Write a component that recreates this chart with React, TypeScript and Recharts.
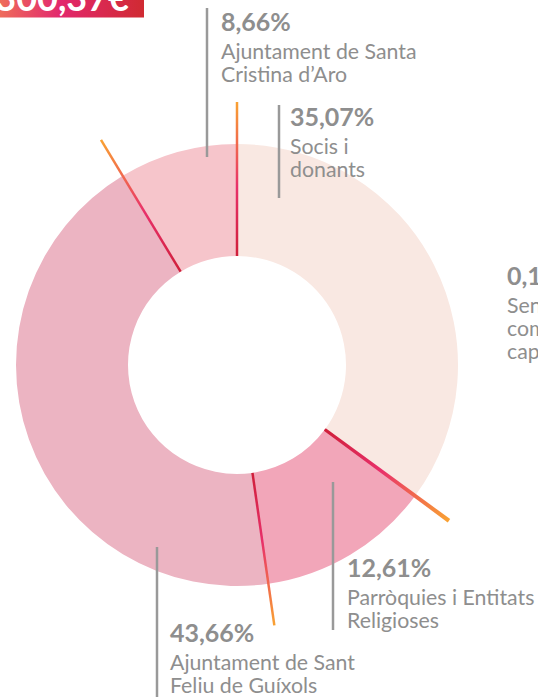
import React from "react";
import { PieChart, Pie, Cell } from "recharts";

const categories = [
  "Socis i donants",
  "Sense compromís capital",
  "Parròquies i Entitats Religioses",
  "Ajuntament de Sant Feliu de Guíxols",
  "Ajuntament de Santa Cristina d'Aro",
];
const values = [35.07, 0.1, 12.61, 43.66, 8.66];
const percentLabels = ["35,07%", "0,1%", "12,61%", "43,66%", "8,66%"];
const descLines = [
  ["Socis i", "donants"],
  ["Sense", "compromís", "capital"],
  ["Parròquies i Entitats", "Religioses"],
  ["Ajuntament de Sant", "Feliu de Guíxols"],
  ["Ajuntament de Santa", "Cristina d’Aro"],
];
const badgeText = "263.300,37€";

const colors = ["#f9e8e2", "#e8325f", "#f2a6b9", "#ecb4c2", "#f6c5cb"];

// label layout (text anchor + gray leader line), separate from data
const layout = [
  { tx: 290, ty: 126, lx: 279, ly1: 105, ly2: 198, line: true },
  { tx: 507, ty: 285, lx: 0, ly1: 0, ly2: 0, line: false },
  { tx: 347, ty: 577, lx: 333, ly1: 482, ly2: 630, line: true },
  { tx: 170, ty: 642, lx: 157, ly1: 547, ly2: 697, line: true },
  { tx: 221, ty: 31, lx: 207, ly1: 8, ly2: 157, line: true },
];

const data = categories.map((name, i) => ({ name, value: values[i] }));

const RAD = Math.PI / 180;
const GRAY = "#8e8e8e";
const FONT = "Lato, 'Open Sans', sans-serif";

const renderLabel = (props: any) => {
  const { cx, cy, startAngle, innerRadius, index } = props;
  const a = startAngle * RAD;
  const r2 = 263;
  const x1 = cx + innerRadius * Math.cos(a);
  const y1 = cy - innerRadius * Math.sin(a);
  const x2 = cx + r2 * Math.cos(a);
  const y2 = cy - r2 * Math.sin(a);
  const L = layout[index];
  const gid = `sep-grad-${index}`;
  return (
    <g key={`lbl-${index}`}>
      <defs>
        <linearGradient id={gid} gradientUnits="userSpaceOnUse" x1={x1} y1={y1} x2={x2} y2={y2}>
          <stop offset="0%" stopColor="#cf1f3a" />
          <stop offset="45%" stopColor="#e8306a" />
          <stop offset="100%" stopColor="#f9a232" />
        </linearGradient>
      </defs>
      <line x1={x1} y1={y1} x2={x2} y2={y2} stroke={`url(#${gid})`} strokeWidth={2.5} />
      {L.line && (
        <line x1={L.lx} y1={L.ly1} x2={L.lx} y2={L.ly2} stroke="#999999" strokeWidth={2.5} />
      )}
      <text x={L.tx} y={L.ty} fill={GRAY} fontFamily={FONT} fontWeight={700} fontSize={25}>
        {percentLabels[index]}
      </text>
      {descLines[index].map((t, j) => (
        <text
          key={j}
          x={L.tx}
          y={L.ty + 28 + j * 23}
          fill={GRAY}
          fontFamily={FONT}
          fontWeight={400}
          fontSize={21.3}
        >
          {t}
        </text>
      ))}
    </g>
  );
};

export default function App() {
  return (
    <div style={{ position: "absolute", left: 0, top: 0, width: 538, height: 697, overflow: "hidden", background: "#fff" }}>
      <PieChart width={538} height={697} margin={{ top: 0, right: 0, bottom: 0, left: 0 }}>
        <Pie
          data={data}
          dataKey="value"
          nameKey="name"
          cx={237}
          cy={365}
          innerRadius={109}
          outerRadius={221}
          startAngle={90}
          endAngle={-270}
          stroke="none"
          isAnimationActive={false}
          label={renderLabel}
          labelLine={false}
        >
          {data.map((d, i) => (
            <Cell key={d.name} fill={colors[i]} />
          ))}
        </Pie>
      </PieChart>
      <svg width={144} height={18} style={{ position: "absolute", left: 0, top: 0 }}>
        <defs>
          <linearGradient id="badge-grad" x1="0" y1="0" x2="1" y2="0">
            <stop offset="0%" stopColor="#ee6c5c" />
            <stop offset="42%" stopColor="#e2286d" />
            <stop offset="100%" stopColor="#d02a32" />
          </linearGradient>
        </defs>
        <rect x={0} y={0} width={144} height={17.5} fill="url(#badge-grad)" />
        <text x={129} y={11} textAnchor="end" fill="#ffffff" fontFamily={FONT} fontWeight={700} fontSize={36}>
          {badgeText}
        </text>
      </svg>
    </div>
  );
}
